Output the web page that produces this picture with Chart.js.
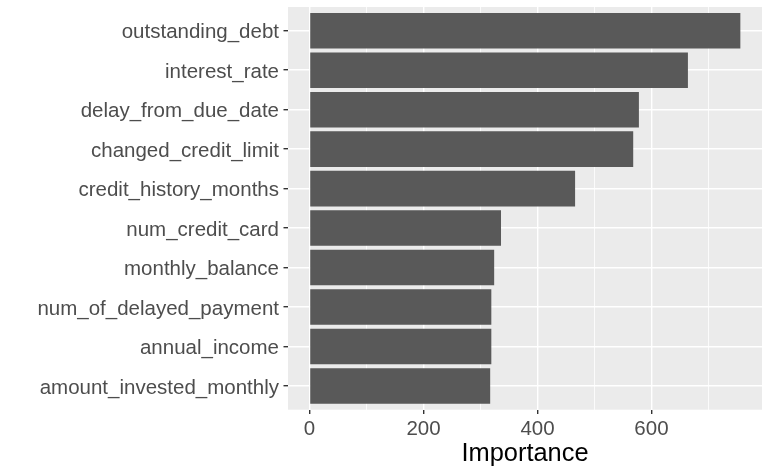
<!DOCTYPE html>
<html>
<head>
<meta charset="utf-8">
<script src="https://cdn.jsdelivr.net/npm/chart.js@4/dist/chart.umd.min.js"></script>
<style>
    body { margin: 0; background: #ffffff; }
</style>
</head>
<body>
<canvas id="myChart" width="770" height="475"></canvas>
<script>
// features, top to bottom
var features = ["outstanding_debt", "interest_rate", "delay_from_due_date", "changed_credit_limit",
    "credit_history_months", "num_credit_card", "monthly_balance", "num_of_delayed_payment",
    "annual_income", "amount_invested_monthly"];
var importance = [756, 664, 578, 568, 466, 336, 324, 319, 319, 317];
var xTicks = [0, 200, 400, 600];

var barColor = "#595959";
var fontFamily = "'Liberation Sans', Arial, sans-serif";

// grey panel behind the bars
const panelBg = {
    id: "panelBg",
    beforeDraw(chart) {
        const a = chart.chartArea;
        const ctx = chart.ctx;
        ctx.save();
        ctx.fillStyle = "#EBEBEB";
        ctx.fillRect(a.left, a.top, a.right - a.left, a.bottom - a.top);
        ctx.restore();
    }
};

var points = importance.map((v, i) => ({ x: v, y: i + 1 }));

new Chart("myChart", {
    type: "bar",
    data: {
        datasets: [{
            data: points,
            backgroundColor: barColor,
            barPercentage: 0.9,
            categoryPercentage: 1
        }]
    },
    plugins: [panelBg],
    options: {
        responsive: false,
        animation: false,
        indexAxis: "y",
        layout: { padding: { top: 7, right: 8, left: 0, bottom: 0 } },
        plugins: { legend: { display: false }, tooltip: { enabled: false } },
        scales: {
            y: {
                type: "linear",
                reverse: true,
                offset: false,
                min: 0.4,
                max: 10.6,
                afterFit: (s) => { s.width = 288; s.paddingTop = 0; s.paddingBottom = 0; },
                border: { display: false },
                grid: { offset: false, color: "#ffffff", lineWidth: 1.4, tickColor: "#333333", tickLength: 4.5 },
                ticks: {
                    stepSize: 1,
                    includeBounds: false,
                    padding: 4.5,
                    labelOffset: 2,
                    color: "#4D4D4D",
                    font: { family: fontFamily, size: 20.5 },
                    callback: (v) => features[v - 1] || ""
                }
            },
            x: {
                type: "linear",
                min: -37.8,
                max: 794,
                afterFit: (s) => { s.height = 65.3; s.paddingLeft = 0; s.paddingRight = 0; },
                border: { display: false },
                grid: {
                    color: "#ffffff",
                    lineWidth: (c) => xTicks.includes(c.tick.value) ? 1.4 : 0.8,
                    tickColor: (c) => xTicks.includes(c.tick.value) ? "#333333" : "rgba(0,0,0,0)",
                    tickLength: 4.3
                },
                ticks: {
                    stepSize: 100,
                    includeBounds: false,
                    maxRotation: 0,
                    autoSkip: false,
                    padding: 3,
                    color: "#4D4D4D",
                    font: { family: fontFamily, size: 20.5 },
                    callback: (v) => xTicks.includes(v) ? String(v) : ""
                },
                title: {
                    display: true,
                    text: "Importance",
                    color: "#000000",
                    font: { family: fontFamily, size: 25.4 },
                    padding: { top: 0, bottom: 6 }
                }
            }
        }
    }
});
</script>
</body>
</html>
